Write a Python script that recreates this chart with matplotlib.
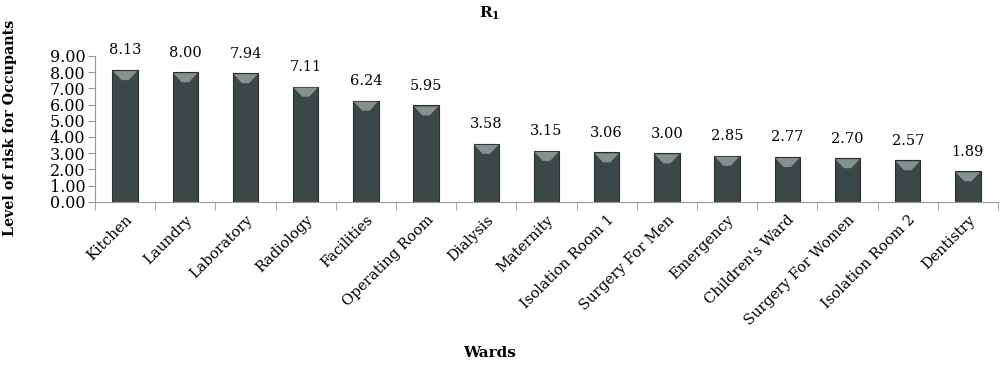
import numpy as np
import matplotlib.pyplot as plt

# ward names and R1 risk levels
wards = ['Kitchen', 'Laundry', 'Laboratory', 'Radiology', 'Facilities',
         'Operating Room', 'Dialysis', 'Maternity', 'Isolation Room 1',
         'Surgery For Men', 'Emergency', "Children's Ward", 'Surgery For Women',
         'Isolation Room 2', 'Dentistry']
risk = [8.13, 8.00, 7.94, 7.11, 6.24, 5.95, 3.58, 3.15, 3.06, 3.00,
        2.85, 2.77, 2.70, 2.57, 1.89]
yticks = [0, 1, 2, 3, 4, 5, 6, 7, 8, 9]

plt.rcParams['font.family'] = ['DejaVu Serif']
plt.rcParams['mathtext.fontset'] = 'dejavuserif'
plt.rcParams['font.size'] = 10

fig = plt.figure(figsize=(10, 3.65), dpi=100)
ax = fig.add_axes([0.095, 0.447, 0.903, 0.40])

x = np.arange(len(wards))
ax.bar(x, risk, width=0.42, color='#3c4847', edgecolor='#27302f', lw=0.8, zorder=2)
# light chevron bevel at the top of each bar (marker shape only)
bevel = [(-1, 0), (1, 0), (0.3, -0.75), (-0.3, -0.75), (-1, 0)]
ax.scatter(x, np.array(risk) - 0.07, marker=bevel, s=300, color='#85918f',
           edgecolors='none', zorder=3)

for xi, v in zip(x, risk):
    ax.annotate('%.2f' % v, (xi, v), xytext=(0, 9), textcoords='offset points',
                ha='center', va='bottom', fontsize=10.5)

ax.set_xlim(-0.5, len(wards)-0.5)
ax.set_ylim(0, 9)
ax.set_yticks(yticks)
ax.set_yticklabels(['%.2f' % t for t in yticks], fontsize=11.5)
ax.set_xticks(x)
ax.set_xticklabels(wards, rotation=45, ha='right', rotation_mode='anchor', fontsize=10.5)
ax.tick_params(axis='x', which='major', length=0, pad=8)
ax.set_xticks(np.arange(-0.5, len(wards)), minor=True)
ax.tick_params(axis='x', which='minor', length=6, color='#999999')
ax.tick_params(axis='y', length=5, color='#999999', pad=2)

for s in ['top', 'right']:
    ax.spines[s].set_visible(False)
for s in ['left', 'bottom']:
    ax.spines[s].set_color('#999999')

fig.text(0.49, 0.964, '$\\mathbf{R_1}$', ha='center', va='center', fontsize=11)
fig.text(0.49, 0.032, 'Wards', ha='center', va='center', fontsize=11, fontweight='bold')
fig.text(0.010, 0.65, 'Level of risk for Occupants', ha='center', va='center',
         rotation=90, fontsize=10.3, fontweight='bold')

fig.savefig('out.png', dpi=100)
